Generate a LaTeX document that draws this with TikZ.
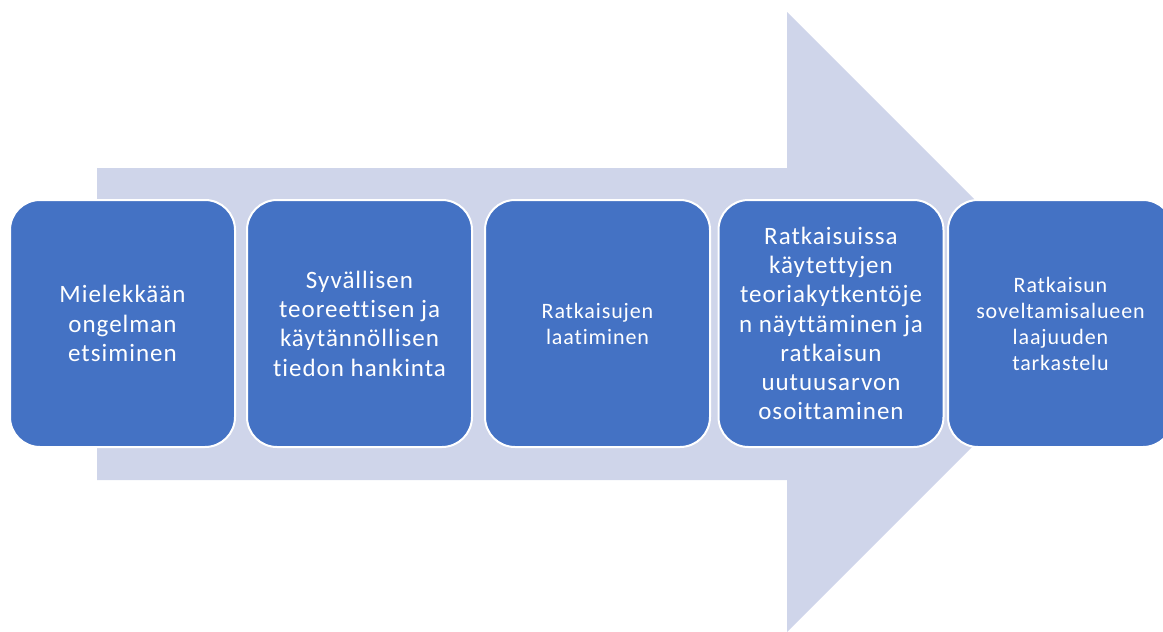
\documentclass[tikz,border=0pt]{standalone}
\usepackage{fontspec}
\setmainfont[Ligatures=CommonOff, LetterSpace=4]{Carlito}
\definecolor{stepblue}{HTML}{4472C4}
\definecolor{arrowgray}{HTML}{CFD5EA}

\begin{document}
\begin{tikzpicture}[x=1pt, y=-1pt,
    stepbox/.style={draw=white, line width=2pt, fill=stepblue, rounded corners=30pt,
        minimum width=225pt, minimum height=247pt, text=white, align=center, inner sep=4pt},
    bigtext/.style={font=\fontsize{25}{29.3}\selectfont},
    smalltext/.style={font=\fontsize{22}{26}\selectfont}]
            \useasboundingbox (0,0) rectangle (1163,632);
            \clip (0,0) rectangle (1163,632);
            % the big background arrow
            \fill[arrowgray] (97,168) -- (787,168) -- (787,12) -- (1097,322)
                -- (787,632) -- (787,480) -- (97,480) -- cycle;
            % the five steps
            \node[stepbox, bigtext] (etsiminen) at (122.5,323.5) {Mielekkään\\ongelman\\etsiminen};
            \node[stepbox, bigtext] (hankinta) at (359.5,323.5) {Syvällisen\\teoreettisen ja\\käytännöllisen\\tiedon hankinta};
            \node[stepbox, smalltext] (laatiminen) at (597.5,323.5) {Ratkaisujen\\laatiminen};
            \node[stepbox, bigtext] (osoittaminen) at (831,323.5) {Ratkaisuissa\\käytettyjen\\teoriakytkentöje\\n näyttäminen ja\\ratkaisun\\uutuusarvon\\osoittaminen};
            \node[stepbox, smalltext] (tarkastelu) at (1060.5,323.5) {Ratkaisun\\soveltamisalueen\\laajuuden\\tarkastelu};
        \end{tikzpicture}
\end{document}
